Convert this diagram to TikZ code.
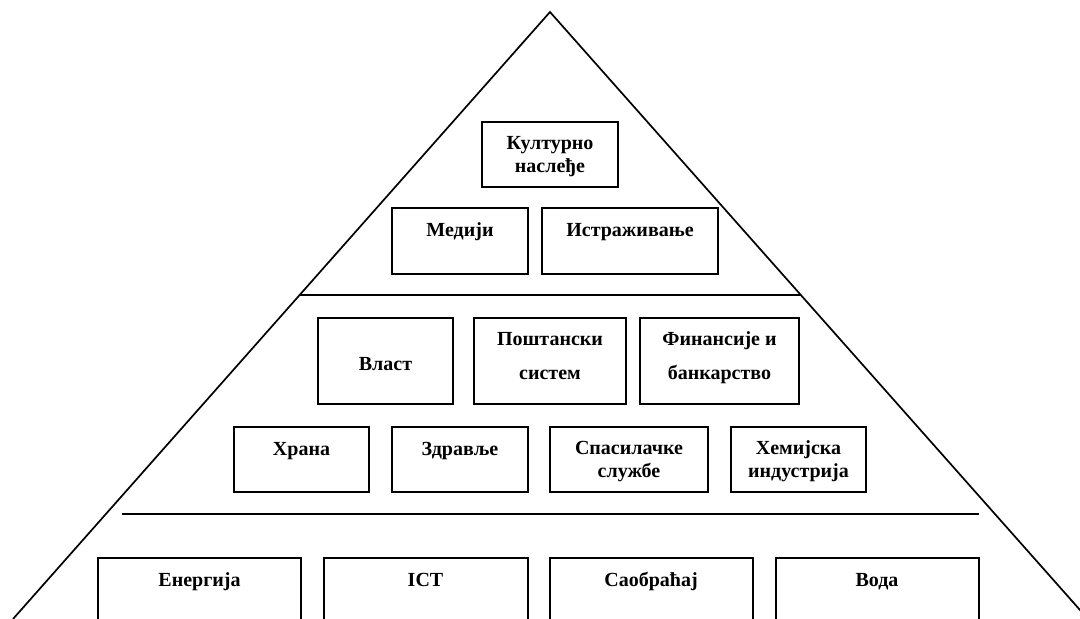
\documentclass[tikz,border=0pt]{standalone}
\usepackage{fontspec}
\setmainfont{Liberation Serif}
\usetikzlibrary{calc}
\begin{document}
\begin{tikzpicture}[x=1pt,y=-1pt,
  box/.style={draw, line width=2pt, rectangle, inner sep=0pt},
  lbl/.style={font=\fontsize{20}{23}\selectfont\bfseries, align=center, anchor=base, inner sep=0pt},
  rule/.style={line width=2.2pt},
  side/.style={line width=1.7pt}]
\useasboundingbox (0,0) rectangle (1080,619);
\clip (0,0) rectangle (1080,619);

% pyramid outline
\coordinate (apex) at (550,12);
\coordinate (bl) at (13,619);
\coordinate (br) at (1088,619);
\draw[side] (bl) -- (apex) -- (br);

% level separators
\coordinate (s1l) at ($(apex)!{283/607}!(bl)$);
\coordinate (s1r) at ($(apex)!{283/607}!(br)$);
\draw[rule] (s1l) -- (s1r);
\coordinate (s2l) at (122,514);
\coordinate (s2r) at (979,514);
\draw[rule] (s2l) -- (s2r);

% top level (text anchored at the baseline of its last line)
\node[box, minimum width=136pt, minimum height=65pt] (kult) at (550,154.5) {};
\node[box, minimum width=136pt, minimum height=66pt] (med) at (460,241) {};
\node[box, minimum width=176pt, minimum height=66pt] (istr) at (630,241) {};
\node[lbl] (tkult) at ([yshift=-51pt]kult.north) {Културно\\наслеђе};
\node[lbl] (tmed) at ([yshift=-29pt]med.north) {Медији};
\node[lbl] (tistr) at ([yshift=-29pt]istr.north) {Истраживање};

% middle level
\node[box, minimum width=135pt, minimum height=86pt] (vlast) at (385.5,361) {};
\node[box, minimum width=152pt, minimum height=86pt] (post) at (550,361) {};
\node[box, minimum width=159pt, minimum height=86pt] (fin) at (719.5,361) {};
\node[lbl] (tvlast) at ([yshift=-53pt]vlast.north) {Власт};
\node[lbl] (tpost) at ([yshift=-62pt]post.north) {Поштански\\[11pt]систем};
\node[lbl] (tfin) at ([yshift=-62pt]fin.north) {Финансије и\\[11pt]банкарство};

\node[box, minimum width=135pt, minimum height=65pt] (hrana) at (301.5,459.5) {};
\node[box, minimum width=136pt, minimum height=65pt] (zdr) at (460,459.5) {};
\node[box, minimum width=158pt, minimum height=65pt] (spas) at (629,459.5) {};
\node[box, minimum width=135pt, minimum height=65pt] (hem) at (798.5,459.5) {};
\node[lbl] (thrana) at ([yshift=-29pt]hrana.north) {Храна};
\node[lbl] (tzdr) at ([yshift=-29pt]zdr.north) {Здравље};
\node[lbl] (tspas) at ([yshift=-51pt]spas.north) {Спасилачке\\службе};
\node[lbl] (them) at ([yshift=-51pt]hem.north) {Хемијска\\индустрија};

% base level
\node[box, minimum width=203pt, minimum height=102pt] (en) at (199.5,609) {};
\node[box, minimum width=204pt, minimum height=102pt] (ict) at (425.5,609) {};
\node[box, minimum width=203pt, minimum height=102pt] (saob) at (651,609) {};
\node[box, minimum width=203pt, minimum height=102pt] (voda) at (877,609) {};
\node[lbl] (ten) at ([yshift=-29pt]en.north) {Енергија};
\node[lbl] (tict) at ([yshift=-29pt]ict.north) {ICT};
\node[lbl] (tsaob) at ([yshift=-29pt]saob.north) {Саобраћај};
\node[lbl] (tvoda) at ([yshift=-29pt]voda.north) {Вода};
\end{tikzpicture}
\end{document}
